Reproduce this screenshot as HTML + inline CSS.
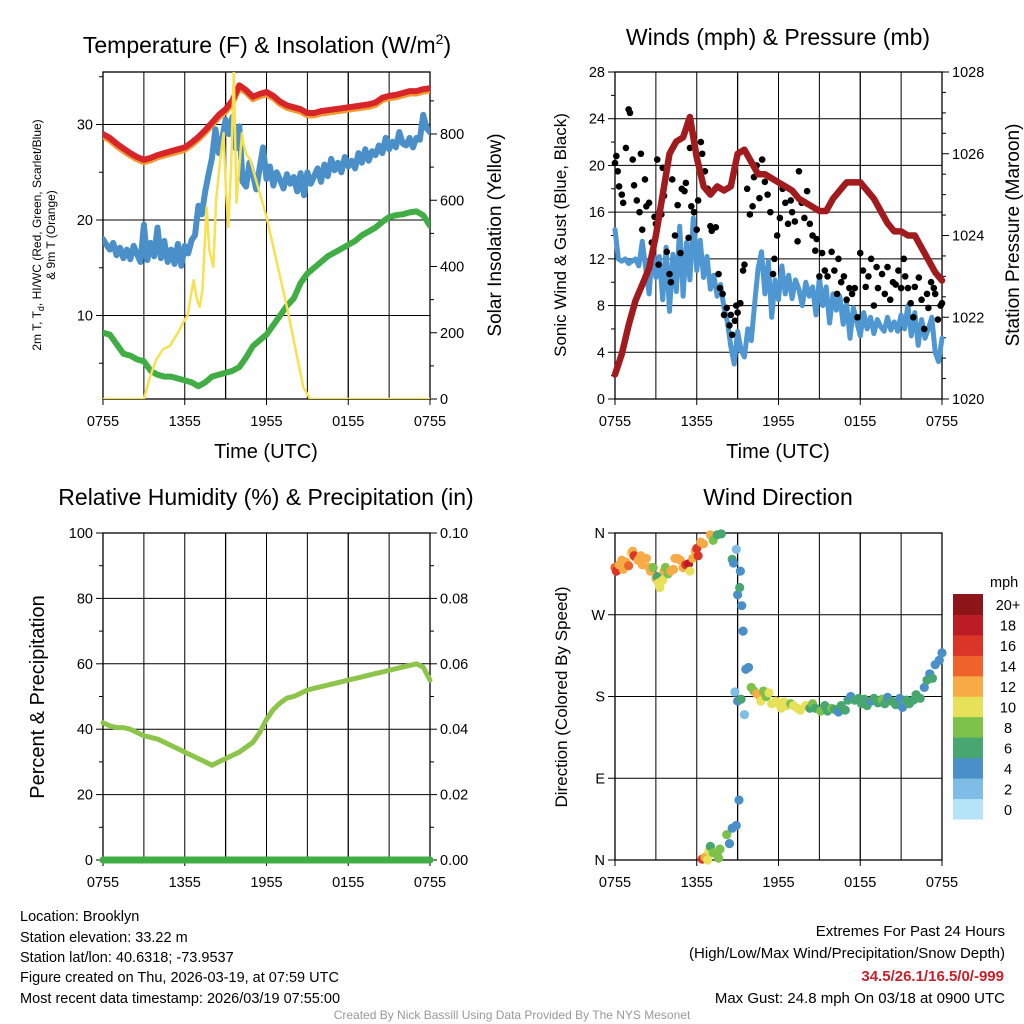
<!DOCTYPE html>
<html><head><meta charset="utf-8"><style>
html,body{margin:0;padding:0;background:#fff;}
svg{display:block;font-family:"Liberation Sans",Arial,sans-serif;}
</style></head><body>
<svg id="fig" width="1024" height="1024" viewBox="0 0 1024 1024" xmlns="http://www.w3.org/2000/svg">
<rect width="1024" height="1024" fill="#fff"/>
<g id="g1"></g>
<g id="g2"></g>
<g id="g3"></g>
<g id="g4"></g>
<text x="267" y="53" font-size="23" text-anchor="middle">Temperature (F) &amp; Insolation (W/m<tspan font-size="14" dy="-9">2</tspan><tspan dy="9">)</tspan></text>
<text x="778" y="45" font-size="23" text-anchor="middle">Winds (mph) &amp; Pressure (mb)</text>
<text x="266" y="505" font-size="23" text-anchor="middle">Relative Humidity (%) &amp; Precipitation (in)</text>
<text x="778" y="505" font-size="23" text-anchor="middle">Wind Direction</text>
<text x="266" y="458" font-size="20" text-anchor="middle">Time (UTC)</text>
<text x="778" y="458" font-size="20" text-anchor="middle">Time (UTC)</text>
<text transform="translate(41,235) rotate(-90)" font-size="12" text-anchor="middle">2m T, T<tspan font-size="9" dy="3">d</tspan><tspan dy="-3">, HI/WC (Red, Green, Scarlet/Blue)</tspan></text>
<text transform="translate(55,235) rotate(-90)" font-size="12" text-anchor="middle">&amp; 9m T (Orange)</text>
<text transform="translate(501,235) rotate(-90)" font-size="19" text-anchor="middle">Solar Insolation (Yellow)</text>
<text transform="translate(566,235) rotate(-90)" font-size="17" text-anchor="middle">Sonic Wind &amp; Gust (Blue, Black)</text>
<text transform="translate(1019,235) rotate(-90)" font-size="19" text-anchor="middle">Station Pressure (Maroon)</text>
<text transform="translate(44,697) rotate(-90)" font-size="20" text-anchor="middle">Percent &amp; Precipitation</text>
<text transform="translate(567,697) rotate(-90)" font-size="17" text-anchor="middle">Direction (Colored By Speed)</text>
<g font-size="14.5">
<text x="20" y="921">Location: Brooklyn</text>
<text x="20" y="942">Station elevation: 33.22 m</text>
<text x="20" y="962">Station lat/lon: 40.6318; -73.9537</text>
<text x="20" y="982">Figure created on Thu, 2026-03-19, at 07:59 UTC</text>
<text x="20" y="1003">Most recent data timestamp: 2026/03/19 07:55:00</text>
</g>
<g font-size="15" text-anchor="end">
<text x="1005" y="936">Extremes For Past 24 Hours</text>
<text x="1005" y="958">(High/Low/Max Wind/Precipitation/Snow Depth)</text>
<text x="1004" y="981" font-weight="bold" fill="#c8202a">34.5/26.1/16.5/0/-999</text>
<text x="1005" y="1003">Max Gust: 24.8 mph On 03/18 at 0900 UTC</text>
</g>
<text x="512" y="1019" font-size="12" fill="#999" text-anchor="middle">Created By Nick Bassill Using Data Provided By The NYS Mesonet</text>
</svg>
<script>
// ---- data ----
const xTickLabels = ["0755","1355","1955","0155","0755"];
const tempValues = [29.0,28.6,28.0,27.5,27.0,26.6,26.3,26.5,26.8,27.0,27.2,27.4,27.6,28.1,28.7,29.4,30.2,31.0,31.6,32.5,34.1,33.6,32.9,33.2,33.4,33.0,32.4,32.0,31.8,31.6,31.2,31.2,31.4,31.5,31.6,31.7,31.8,31.9,32.0,32.1,32.3,32.8,33.0,33.1,33.3,33.5,33.5,33.7,33.8];
const chillValues = [18.0,17.4,16.9,17.6,16.3,17.1,16.0,16.9,15.9,17.3,16.4,15.6,19.5,15.8,17.6,16.2,19.2,16.0,17.8,15.6,16.9,15.4,17.5,15.2,17.3,16.5,17.9,18.4,21.5,20.6,23.0,24.8,26.5,29.5,27.0,28.5,30.5,29.0,30.8,27.5,29.8,24.0,23.5,26.0,24.8,23.2,25.5,27.6,24.3,25.6,23.6,25.0,24.2,23.3,24.8,23.8,24.5,23.0,24.9,22.6,25.0,23.8,24.6,25.4,24.0,25.8,24.6,26.4,25.2,26.0,25.0,26.6,25.6,26.2,25.4,27.0,26.0,27.4,26.2,27.2,26.8,27.8,27.0,28.6,27.4,28.2,27.6,29.2,28.0,27.8,28.6,27.6,28.6,28.4,31.0,29.6,29.2];
const dewValues = [8.2,8.0,7.0,6.0,5.8,5.4,5.2,4.2,3.8,3.6,3.6,3.4,3.2,3.0,2.6,3.0,3.6,3.8,4.0,4.2,4.6,5.6,6.8,7.4,8.0,9.0,10.0,11.0,11.8,13.4,14.4,15.0,15.6,16.2,16.6,17.0,17.4,17.8,18.4,18.8,19.2,19.8,20.3,20.5,20.6,20.8,20.9,20.5,19.4];
const solarTimes = [0,3.0,3.4,3.9,4.4,4.9,5.5,6.0,6.2,6.4,6.65,6.9,7.1,7.3,7.6,7.8,8.1,8.3,8.6,8.85,9.0,9.2,9.4,9.6,9.8,10.0,10.2,10.3,10.5,10.8,12.0,13.5,14.7,15.2,24];
const solarValues = [0,0,60,118,150,160,200,240,250,300,359,300,278,330,580,450,399,600,722,803,650,519,700,985,592,700,803,773,740,722,550,278,36,0,0];
const pressureValues = [1020.6,1021.1,1021.8,1022.4,1022.8,1023.2,1024.0,1025.0,1026.0,1026.3,1026.4,1026.9,1025.9,1025.2,1025.0,1025.2,1025.1,1025.2,1026.0,1026.1,1025.8,1025.5,1025.5,1025.4,1025.3,1025.2,1025.1,1024.9,1024.8,1024.7,1024.6,1024.6,1024.9,1025.1,1025.3,1025.3,1025.3,1025.1,1024.9,1024.6,1024.3,1024.1,1024.1,1024.0,1024.0,1023.7,1023.4,1023.1,1022.9];
const windValues = [14.5,12,11.8,12,11.6,11.8,12,11.4,13.5,11.2,9.0,12.8,10.4,12.2,8.5,13.0,7.5,12.4,9.2,14.8,8.8,13.4,10.2,15.5,11.0,13.6,10.4,12.2,9.4,10.6,8.8,9.8,7.8,6.6,4.5,3.0,5.8,4.2,3.6,6.0,5.0,8.2,11.2,12.6,9.0,11.8,7.0,10.2,8.5,11.4,9.0,10.6,8.6,10.2,9.4,8.0,10.0,8.8,9.6,7.2,10.4,8.0,9.6,6.5,9.0,7.6,8.8,6.4,8.2,5.2,7.8,6.6,5.4,7.4,6.0,7.0,5.6,6.8,6.2,5.8,7.0,5.9,6.6,5.8,7.2,6.0,8.0,5.4,7.4,4.6,6.8,5.2,6.0,7.0,4.0,3.2,5.2];
const gustTimes = [0,0.1,0.2,0.3,0.5,0.6,0.8,1.0,1.1,1.3,1.4,1.6,1.8,1.9,2.0,2.2,2.3,2.5,2.7,2.9,3.0,3.1,3.2,3.4,3.5,3.6,3.8,4.0,4.1,4.2,4.4,4.6,4.8,4.9,5.1,5.2,5.4,5.5,5.6,5.8,6.0,6.1,6.3,6.4,6.6,6.8,7.0,7.1,7.4,7.6,7.7,7.9,8.0,8.2,8.4,8.5,8.6,8.8,8.9,9.0,9.2,9.4,9.5,9.7,9.9,10.1,10.2,10.4,10.6,10.8,11.0,11.2,11.4,11.6,11.7,11.9,12.1,12.3,12.5,12.7,12.9,13.0,13.2,13.4,13.5,13.7,13.9,14.1,14.3,14.5,14.7,14.8,15.0,15.2,15.4,15.6,15.9,16.1,16.3,16.4,16.6,16.8,17.0,17.2,17.4,17.6,17.8,18.0,18.2,18.4,18.6,18.8,19.0,19.2,19.3,19.6,19.8,20.0,20.2,20.4,20.6,20.8,21.0,21.2,21.3,21.5,21.7,21.9,22.0,22.3,22.5,22.7,22.9,23.0,23.2,23.4,23.5,23.7,23.9,24.0];
const gustValues = [20.2,20.8,19.5,18.2,17.5,16.8,21.5,24.8,24.5,20.5,18.3,17.0,16.0,21.0,14.5,18.8,16.5,16.8,13.4,15.6,15.0,20.5,11.5,15.8,19.8,17.4,12.6,10.7,10.0,18.8,14.0,16.6,12.5,18.0,17.8,18.5,13.8,21.5,16.5,16.0,14.5,17.0,22.0,21.0,19.5,18.0,14.8,14.4,14.7,10.7,9.5,9.0,7.2,7.8,6.3,7.2,5.5,6.7,8.0,7.4,8.2,11.0,11.5,18.0,15.8,16.5,19.0,20.0,17.2,20.5,18.6,17.5,16.0,10.7,12.0,14.0,15.5,18.0,16.8,15.0,17.0,16.0,15.2,13.5,19.5,16.8,15.5,17.8,15.0,14.0,12.7,13.7,10.5,12.5,11.0,10.5,12.6,11.0,9.0,12.0,10.0,10.5,8.5,9.5,9.0,9.5,7.0,12.5,11.0,9.6,10.5,12.0,8.0,11.3,9.5,10.7,9.0,11.3,8.5,10.0,9.8,11.0,9.5,12.0,10.5,9.5,8.2,7.0,9.6,10.4,8.5,6.0,9.0,7.8,10.0,9.5,9.0,6.8,8.0,8.2];
const rhValues = [42,41,40.5,40.5,40,39,38,37.5,37,36,35,34,33,32,31,30,29,30,31,32,33,34.5,36,39,43,46,48,49.5,50,51,52,52.5,53,53.5,54,54.5,55,55.5,56,56.5,57,57.5,58,58.5,59,59.5,60,59,55];
const precipValues = [0,0,0,0,0,0,0,0,0,0,0,0,0,0,0,0,0,0,0,0,0,0,0,0,0];
const dirTimes = [0,0.1,0.3,0.5,0.6,0.8,1.0,1.2,1.3,1.5,1.4,1.7,1.9,2.0,2.3,2.5,2.6,2.8,3.0,3.1,3.2,3.3,3.5,3.6,3.7,3.9,4.1,4.3,4.4,4.6,4.8,5.0,5.2,5.4,5.5,5.7,5.9,6.0,6.1,6.3,6.5,7.0,7.2,7.5,7.8,8.6,8.7,8.9,9.2,9.0,9.15,9.3,9.4,6.4,6.6,6.8,6.9,7.0,7.2,7.5,7.6,7.7,8.2,8.6,8.4,8.9,9.1,8.8,9.0,9.25,9.6,9.8,9.5,10.0,10.2,10.4,10.6,10.7,10.9,11.1,11.3,11.5,11.8,12.0,12.2,12.4,12.6,12.9,13.1,13.4,13.6,14.0,14.3,14.5,14.7,15.1,15.4,15.6,15.9,16.1,16.4,16.6,16.9,17.1,17.3,17.6,17.9,18.1,18.3,18.5,18.8,19.0,19.3,19.6,19.8,20.0,20.3,20.6,20.9,21.1,21.4,21.6,21.9,22.1,22.4,22.7,22.9,23.1,23.3,23.5,23.8,24.0];
const dirValues = [322,318,325,330,320,328,324,338,340,333,335,330,335,325,332,322,318,322,310,312,305,300,308,318,322,315,318,320,332,332,330,322,325,326,318,332,340,343,335,350,348,358,352,358,359,331,327,342,318,292,300,280,252,1,3,0,10,15,8,6,2,12,28,35,18,38,66,185,175,177,210,212,160,190,186,183,181,175,186,180,184,172,175,172,167,174,170,172,170,167,165,170,167,172,167,164,170,164,167,166,163,170,165,176,180,176,178,172,177,170,175,178,173,177,172,179,175,171,178,168,176,172,176,182,178,190,198,205,200,215,220,228];
const dirSpeeds = [14,16,12,12,12,12,14,10,12,12,16,12,12,12,12,12,12,8,12,6,10,10,10,12,8,8,12,12,12,12,12,12,16,18,10,12,12,16,16,12,12,12,8,6,6,6,4,2,4,4,6,4,4,16,12,10,10,6,8,8,8,8,8,4,4,4,4,2,4,6,4,4,2,8,8,12,12,10,8,8,10,10,10,10,10,10,10,8,10,10,10,10,6,8,6,8,6,6,8,6,4,6,6,6,4,6,6,6,6,6,4,6,6,8,6,4,6,6,4,4,6,6,6,6,6,4,6,4,6,4,4,4];
const speedBinLabels = ["0","2","4","6","8","10","12","14","16","18","20+"];
const speedBinColors = ["#b5e3f8","#7fbde7","#4a8fc7","#48a670","#7bc14a","#e7e059","#f7ab46","#f0622c","#db3527","#bb1c25","#8d151a"];

// ---- helpers ----
const NS="http://www.w3.org/2000/svg";
function mk(parent,tag,attrs){const e=document.createElementNS(NS,tag);for(const k in attrs)e.setAttribute(k,attrs[k]);parent.appendChild(e);return e;}
function lin(d0,d1,r0,r1){return v=>r0+(v-d0)/(d1-d0)*(r1-r0);}
function polyline(parent,xs,ys,color,w,name){
  const p=mk(parent,'path',{d:xs.map((x,i)=>(i?'L':'M')+x.toFixed(1)+' '+ys[i].toFixed(1)).join(''),fill:'none',stroke:color,'stroke-width':w,'stroke-linejoin':'round','stroke-linecap':'round'});
  
  
  return p;
}
function frame(g,x0,x1,y0,y1,hVals,hScale,name){
  const fr=mk(g,'g',{});
  
  
  for(let h=0;h<=24;h+=3){const x=x0+h/24*(x1-x0);mk(fr,'line',{x1:x,x2:x,y1:y0,y2:y1,stroke:'#000','stroke-width':h%9===0&&h>0&&h<24?1.3:1});}
  hVals.forEach(v=>{const y=hScale(v);mk(fr,'line',{x1:x0,x2:x1,y1:y,y2:y,stroke:'#000','stroke-width':1});});
  const b=mk(g,'rect',{x:x0,y:y0,width:x1-x0,height:y1-y0,fill:'none',stroke:'#000','stroke-width':1.3});
  
  
}
function xticks(g,x0,x1,yb,name){
  xTickLabels.forEach((l,i)=>{const x=x0+i*6/24*(x1-x0);
    mk(g,'line',{x1:x,x2:x,y1:yb,y2:yb+6,stroke:'#000'});
    const t=mk(g,'text',{x:x,y:yb+27,'font-size':14.5,'text-anchor':'middle'});t.textContent=l;
    
    
  });
}
function yticks(g,vals,labels,sc,x,side,minor,name){
  const d=side==='l'?-1:1;
  vals.forEach((v,i)=>{const y=sc(v);mk(g,'line',{x1:x,x2:x+d*7,y1:y,y2:y,stroke:'#000'});
    const t=mk(g,'text',{x:x+d*10,y:y+5,'font-size':14.5,'text-anchor':side==='l'?'end':'start'});t.textContent=labels[i];
    
    
  });
  (minor||[]).forEach(v=>{const y=sc(v);mk(g,'line',{x1:x,x2:x+d*4,y1:y,y2:y,stroke:'#000'});});
}
const halfHours=i=>i*0.5, quarter=i=>i*0.25;

// ---- panel 1 ----
(function(){
  const g=document.getElementById('g1');const x0=103,x1=430,y0=72,y1=399;
  const xs=lin(0,24,x0,x1), yT=lin(0,10,411,315.5), yS=lin(0,800,399,134);
  frame(g,x0,x1,y0,y1,[10,20,30],yT,'temp');
  yticks(g,[10,20,30],["10","20","30"],yT,x0,'l',[5,15,25,35],'temp-left');
  yticks(g,[0,200,400,600,800],["0","200","400","600","800"],yS,x1,'r',[100,300,500,700,900],'solar-right');
  xticks(g,x0,x1,y1,'temp');
  const clip=mk(g,'clipPath',{id:'c1'});mk(clip,'rect',{x:x0,y:y0,width:x1-x0,height:y1-y0});
  const s=mk(g,'g',{'clip-path':'url(#c1)'});
  polyline(s,tempValues.map((v,i)=>xs(halfHours(i))),tempValues.map(v=>yT(v-0.25)),'#f39a2e',6,'temp-9m-line');
  polyline(s,tempValues.map((v,i)=>xs(halfHours(i))),tempValues.map(v=>yT(v)),'#d7252a',6,'temp-2m-line');
  polyline(s,chillValues.map((v,i)=>xs(quarter(i))),chillValues.map(v=>yT(v)),'#4a8fc8',6,'wind-chill-line');
  polyline(s,dewValues.map((v,i)=>xs(halfHours(i))),dewValues.map(v=>yT(v)),'#40ad45',6,'dewpoint-line');
  polyline(s,solarTimes.map(t=>xs(t)),solarValues.map(v=>yS(v)),'#f7e14f',2.5,'solar-line');
})();

// ---- panel 2 ----
(function(){
  const g=document.getElementById('g2');const x0=615,x1=942,y0=72,y1=399;
  const xs=lin(0,24,x0,x1), yW=lin(0,28,399,72), yP=lin(1020,1028,399,72);
  frame(g,x0,x1,y0,y1,[4,8,12,16,20,24],yW,'winds');
  yticks(g,[0,4,8,12,16,20,24,28],["0","4","8","12","16","20","24","28"],yW,x0,'l',[2,6,10,14,18,22,26],'wind-left');
  yticks(g,[1020,1022,1024,1026,1028],["1020","1022","1024","1026","1028"],yP,x1,'r',[1020.5,1021,1021.5,1022.5,1023,1023.5,1024.5,1025,1025.5,1026.5,1027,1027.5],'pressure-right');
  xticks(g,x0,x1,y1,'winds');
  polyline(g,windValues.map((v,i)=>xs(quarter(i))),windValues.map(v=>yW(v)),'#4f97d2',5,'sonic-wind-line');
  gustTimes.forEach((t,i)=>{const c=mk(g,'circle',{cx:xs(t),cy:yW(gustValues[i]),r:3.3,fill:'#000'});
    
    });
  polyline(g,pressureValues.map((v,i)=>xs(halfHours(i))),pressureValues.map(v=>yP(v)),'#a11a1d',6.5,'pressure-line');
})();

// ---- panel 3 ----
(function(){
  const g=document.getElementById('g3');const x0=103,x1=430,y0=533,y1=860;
  const xs=lin(0,24,x0,x1), yR=lin(0,100,860,533), yPr=lin(0,0.1,860,533);
  frame(g,x0,x1,y0,y1,[20,40,60,80],yR,'humidity');
  yticks(g,[0,20,40,60,80,100],["0","20","40","60","80","100"],yR,x0,'l',[10,30,50,70,90],'rh-left');
  yticks(g,[0,0.02,0.04,0.06,0.08,0.1],["0.00","0.02","0.04","0.06","0.08","0.10"],yPr,x1,'r',[0.01,0.03,0.05,0.07,0.09],'precip-right');
  xticks(g,x0,x1,y1,'humidity');
  polyline(g,rhValues.map((v,i)=>xs(halfHours(i))),rhValues.map(v=>yR(v)),'#8dc54b',5,'rh-line');
  polyline(g,precipValues.map((v,i)=>xs(i)),precipValues.map(v=>yPr(v)),'#40ad45',7,'precip-line');
})();

// ---- panel 4 ----
(function(){
  const g=document.getElementById('g4');const x0=615,x1=942,y0=533,y1=860;
  const xs=lin(0,24,x0,x1), yD=lin(0,360,860,533);
  frame(g,x0,x1,y0,y1,[90,180,270],yD,'direction');
  yticks(g,[0,90,180,270,360],["N","E","S","W","N"],yD,x0,'l',[],'direction-left');
  xticks(g,x0,x1,y1,'direction');
  dirTimes.forEach((t,i)=>{const b=Math.min(10,Math.floor(dirSpeeds[i]/2));
    const c=mk(g,'circle',{cx:xs(t),cy:yD(dirValues[i]),r:4.6,fill:speedBinColors[b]});
    
    });
  const cb=mk(g,'g',{});
  
  
  const h=225/11;
  speedBinColors.forEach((col,i)=>{const y=819-(i+1)*h;
    const r=mk(cb,'rect',{x:953,y:y,width:30,height:h+0.5,fill:col});
    
    
    const t=mk(cb,'text',{x:1008,y:y+h/2+6,'font-size':14.5,'text-anchor':'middle'});t.textContent=speedBinLabels[i];
    
    
  });
  const u=mk(cb,'text',{x:990,y:587,'font-size':14.5});u.textContent='mph';
  
  
})();
</script>
</body></html>
